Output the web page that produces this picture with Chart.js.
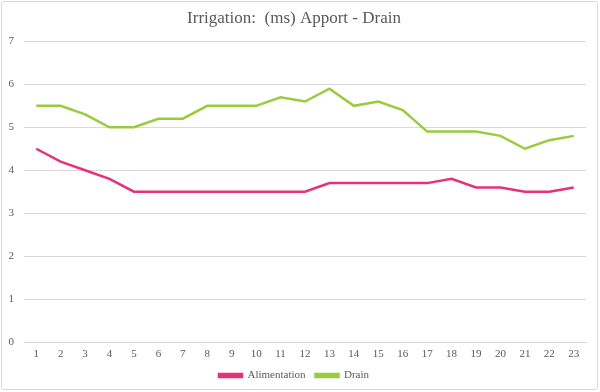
<!DOCTYPE html>
<html><head><meta charset="utf-8">
<script src="https://cdn.jsdelivr.net/npm/chart.js@4/dist/chart.umd.min.js"></script>
<style>
html,body{margin:0;padding:0;background:#fff;overflow:hidden;}
#c{position:absolute;left:0;top:0;display:block;}
#frame{position:absolute;left:1px;top:1px;width:597px;height:389px;border:1px solid #d9d9d9;border-radius:3px;box-sizing:border-box;pointer-events:none;}
</style></head>
<body>
<canvas id="c" width="600" height="392"></canvas>
<div id="frame"></div>
<script>
const categories = ["1","2","3","4","5","6","7","8","9","10","11","12","13","14","15","16","17","18","19","20","21","22","23"];
const alimentation = [4.5,4.2,4.0,3.8,3.5,3.5,3.5,3.5,3.5,3.5,3.5,3.5,3.7,3.7,3.7,3.7,3.7,3.8,3.6,3.6,3.5,3.5,3.6];
const drain = [5.5,5.5,5.3,5.0,5.0,5.2,5.2,5.5,5.5,5.5,5.7,5.6,5.9,5.5,5.6,5.4,4.9,4.9,4.9,4.8,4.5,4.7,4.8];
const yTicks = [0,1,2,3,4,5,6,7];
const titleText = "Irrigation:  (ms) Apport - Drain";

const font = "'Liberation Serif', 'DejaVu Serif', serif";
new Chart(document.getElementById('c'), {
  type: 'line',
  data: {
    labels: categories,
    datasets: [
      {label: 'Alimentation', data: alimentation, borderColor: '#E5327A', backgroundColor: '#E5327A', borderWidth: 2.5, pointRadius: 0, tension: 0},
      {label: 'Drain', data: drain, borderColor: '#99CC3D', backgroundColor: '#99CC3D', borderWidth: 2.5, pointRadius: 0, tension: 0}
    ]
  },
  options: {
    responsive: false,
    animation: false,
    layout: {padding: {left: 2, right: 14, top: 8, bottom: 1}},
    plugins: {
      title: {display: true, text: titleText, color: '#595959', font: {family: font, size: 17, weight: 'normal'}, padding: {top: 0, bottom: 13}},
      legend: {position: 'bottom', labels: {color: '#595959', font: {family: font, size: 11}, boxWidth: 23, boxHeight: 3, padding: 10}},
      tooltip: {enabled: false}
    },
    scales: {
      x: {
        offset: true,
        afterFit: (s) => { s.height = 18; },
        grid: {display: false, drawTicks: false, offset: true},
        border: {display: true, color: '#d9d9d9', width: 1},
        ticks: {color: '#595959', font: {family: font, size: 11}, padding: 6, maxRotation: 0, autoSkip: false}
      },
      y: {
        min: 0, max: 7,
        afterFit: (s) => { s.width = 22; },
        afterBuildTicks: (s) => { s.ticks = yTicks.map(v => ({value: v})); },
        grid: {color: '#d9d9d9', drawTicks: false},
        border: {display: false},
        ticks: {color: '#595959', font: {family: font, size: 11}, padding: 10}
      }
    }
  }
});
</script>
</body></html>
